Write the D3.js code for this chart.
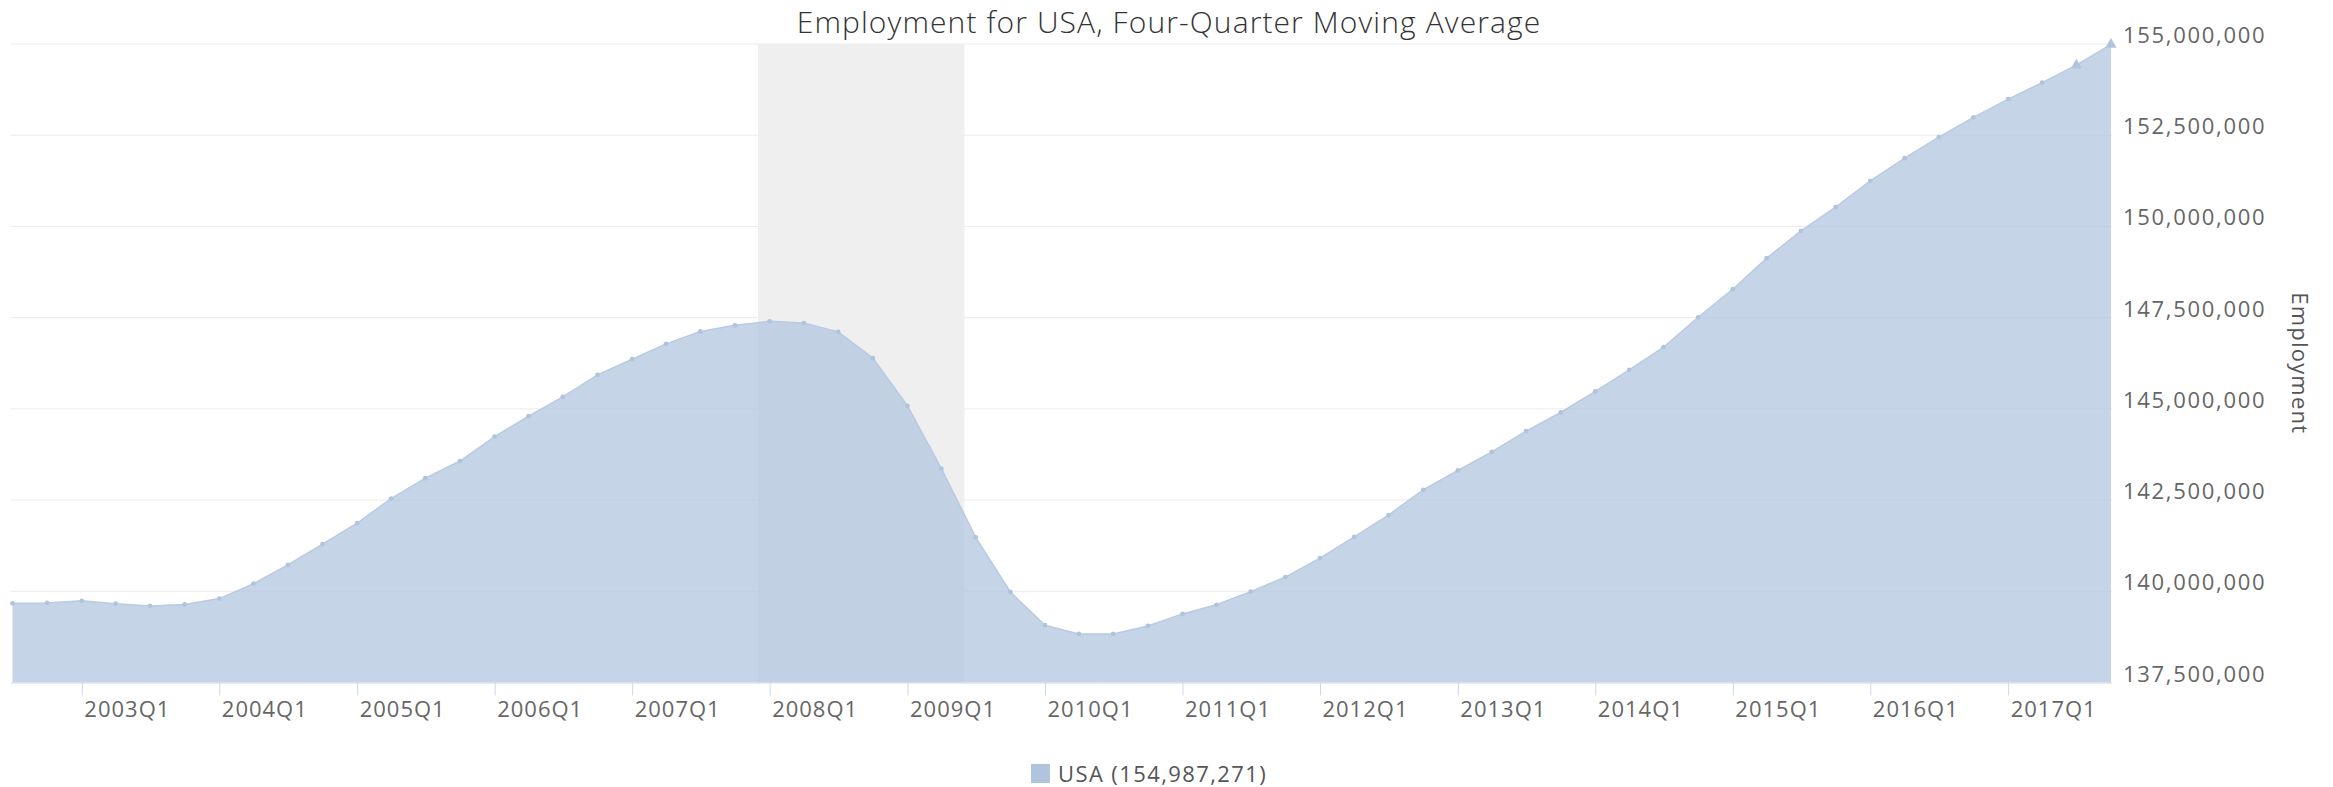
<!DOCTYPE html>
<html><head><meta charset="utf-8">
<script src="https://cdn.jsdelivr.net/npm/d3@7"></script>
<style>
body{margin:0;background:#fff}
svg{display:block}
text{font-family:"Open Sans",sans-serif}
</style>
</head><body>
<svg id="chart" width="2333" height="787"></svg>
<script>
const chartTitle = "Employment for USA, Four-Quarter Moving Average";
const yAxisTitle = "Employment";
const seriesName = "USA";
const quarters = [
  "2002Q3","2002Q4",
  "2003Q1","2003Q2","2003Q3","2003Q4",
  "2004Q1","2004Q2","2004Q3","2004Q4",
  "2005Q1","2005Q2","2005Q3","2005Q4",
  "2006Q1","2006Q2","2006Q3","2006Q4",
  "2007Q1","2007Q2","2007Q3","2007Q4",
  "2008Q1","2008Q2","2008Q3","2008Q4",
  "2009Q1","2009Q2","2009Q3","2009Q4",
  "2010Q1","2010Q2","2010Q3","2010Q4",
  "2011Q1","2011Q2","2011Q3","2011Q4",
  "2012Q1","2012Q2","2012Q3","2012Q4",
  "2013Q1","2013Q2","2013Q3","2013Q4",
  "2014Q1","2014Q2","2014Q3","2014Q4",
  "2015Q1","2015Q2","2015Q3","2015Q4",
  "2016Q1","2016Q2","2016Q3","2016Q4",
  "2017Q1","2017Q2","2017Q3","2017Q4"
];
const employment = [
  139670000,139680000,
  139740000,139660000,139600000,139640000,
  139800000,140210000,140720000,141290000,
  141870000,142540000,143100000,143570000,
  144240000,144800000,145330000,145930000,
  146360000,146780000,147120000,147290000,
  147400000,147350000,147110000,146390000,
  145080000,143360000,141480000,139980000,
  139070000,138830000,138830000,139050000,
  139380000,139630000,139990000,140390000,
  140910000,141490000,142090000,142780000,
  143310000,143820000,144390000,144900000,
  145480000,146070000,146690000,147510000,
  148280000,149130000,149880000,150530000,
  151250000,151870000,152450000,152990000,
  153490000,153940000,154420000,154987271
];
const triangleQuarters = ["2017Q3","2017Q4"];
const xTickLabels = ["2003Q1","2004Q1","2005Q1","2006Q1","2007Q1","2008Q1","2009Q1","2010Q1","2011Q1","2012Q1","2013Q1","2014Q1","2015Q1","2016Q1","2017Q1"];
const yTickValues = [137500000,140000000,142500000,145000000,147500000,150000000,152500000,155000000];
const recessionPeriod = ["2007-12-01","2009-06-01"];

const parseQ = s => new Date(+s.slice(0,4), (+s.slice(5) - 1) * 3, 1);
const data = quarters.map((q,i) => ({q, date: parseQ(q), v: employment[i]}));

const svg = d3.select("#chart");
const plotLeft = 11, plotRight = 2112, plotTop = 44, plotBottom = 682.5;

const x = d3.scaleTime()
  .domain([data[0].date, data[data.length-1].date])
  .range([12.5, 2111]);
const y = d3.scaleLinear()
  .domain([yTickValues[0], yTickValues[yTickValues.length-1]])
  .range([plotBottom, plotTop]);

// gridlines
svg.append("g").selectAll("line").data(yTickValues.slice(1)).join("line")
  .attr("x1", plotLeft).attr("x2", plotRight)
  .attr("y1", d => y(d)).attr("y2", d => y(d))
  .attr("stroke", "#ebebeb").attr("stroke-width", 1);

// recession band
const parseD = d3.timeParse("%Y-%m-%d");
svg.append("rect")
  .attr("x", x(parseD(recessionPeriod[0])))
  .attr("width", x(parseD(recessionPeriod[1])) - x(parseD(recessionPeriod[0])))
  .attr("y", plotTop).attr("height", plotBottom - plotTop)
  .attr("fill", "#efefef");

// area
const area = d3.area().x(d => x(d.date)).y0(y(yTickValues[0])).y1(d => y(d.v));
svg.append("path").datum(data).attr("d", area)
  .attr("fill", "#b0c4de").attr("fill-opacity", 0.72);
const line = d3.line().x(d => x(d.date)).y(d => y(d.v));
svg.append("path").datum(data).attr("d", line)
  .attr("fill", "none").attr("stroke", "#b9cae2").attr("stroke-width", 1.5);

// markers
svg.append("g").selectAll("path").data(data).join("path")
  .attr("transform", d => `translate(${x(d.date)},${y(d.v)})`)
  .attr("d", d => triangleQuarters.includes(d.q)
      ? d3.symbol(d3.symbolTriangle, 55)()
      : d3.symbol(d3.symbolCircle, 18)())
  .attr("fill", "#b0c4de");

// x axis
const xTickDates = xTickLabels.map(parseQ);
const xAxis = d3.axisBottom(x).tickValues(xTickDates).tickSize(13)
  .tickFormat((d,i) => xTickLabels[i]).tickSizeOuter(0);
const gx = svg.append("g").attr("transform", `translate(0,${plotBottom})`).call(xAxis);
gx.select(".domain").attr("stroke", "#ccd6eb").attr("d", `M${plotLeft},0.5H${plotRight}`);
gx.selectAll(".tick line").attr("stroke", "#ccd6eb");
gx.selectAll(".tick text")
  .attr("text-anchor", "start").attr("x", 2).attr("y", 34).attr("dy", null)
  .attr("fill", "#666").style("font-size", "22px").style("letter-spacing", "1px");

// y axis
const yAxis = d3.axisRight(y).tickValues(yTickValues).tickSize(0)
  .tickFormat(d3.format(","));
const gy = svg.append("g").attr("transform", `translate(${plotRight},0)`).call(yAxis);
gy.select(".domain").remove();
gy.selectAll(".tick text")
  .attr("x", 11).attr("dy", null).attr("y", -1.5)
  .attr("fill", "#666").style("font-size", "22px").style("letter-spacing", "1.7px");

// y axis title
svg.append("text")
  .attr("transform", `translate(2292,${(plotTop+plotBottom)/2}) rotate(90)`)
  .attr("text-anchor", "middle")
  .attr("fill", "#555").style("font-size", "22px").style("letter-spacing", "1.2px")
  .text(yAxisTitle);

// title
svg.append("text")
  .attr("x", 1169).attr("y", 33)
  .attr("text-anchor", "middle")
  .attr("fill", "#333").style("font-size", "30px").style("font-weight", 300)
  .style("letter-spacing", "1.1px")
  .text(chartTitle);

// legend
const lastVal = employment[employment.length-1];
const lg = svg.append("g");
lg.append("rect").attr("x", 1031).attr("y", 764).attr("width", 19).attr("height", 19)
  .attr("fill", "#b0c4de");
lg.append("text").attr("x", 1058).attr("y", 782)
  .attr("fill", "#555").style("font-size", "22px").style("letter-spacing", "1.4px")
  .text(`${seriesName} (${d3.format(",")(lastVal)})`);
</script>
</body></html>
